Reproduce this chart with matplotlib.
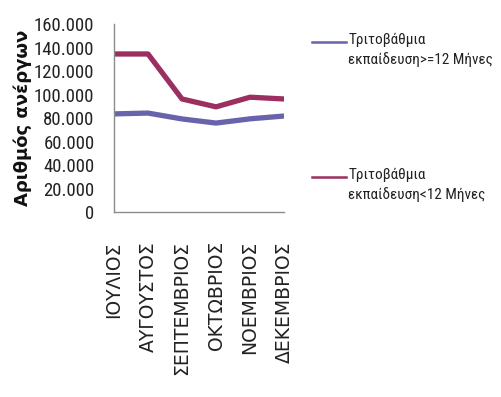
import matplotlib.pyplot as plt
from matplotlib import font_manager
from matplotlib.lines import Line2D
from matplotlib.ticker import FuncFormatter

months = ["ΙΟΥΛΙΟΣ", "ΑΥΓΟΥΣΤΟΣ", "ΣΕΠΤΕΜΒΡΙΟΣ", "ΟΚΤΩΒΡΙΟΣ", "ΝΟΕΜΒΡΙΟΣ", "ΔΕΚΕΜΒΡΙΟΣ"]
long_term = [83500, 84200, 79200, 75700, 79300, 81700]
short_term = [134500, 134500, 96200, 89500, 97700, 96200]
labels = ["Τριτοβάθμια\nεκπαίδευση>=12 Μήνες", "Τριτοβάθμια\nεκπαίδευση<12 Μήνες"]
colors = ["#6764AC", "#9B2F5F"]

# pick a narrow font if there is one, Roboto otherwise
installed = {f.name for f in font_manager.fontManager.ttflist}
narrow = "Roboto"
for name in ["Liberation Sans Narrow", "Roboto Condensed", "DejaVu Sans Condensed"]:
    if name in installed:
        narrow = name
        break
condensed = narrow != "Roboto"

fig = plt.figure(figsize=(5.01, 3.97), dpi=100)
ax = fig.add_axes([0.2275, 0.466, 0.3395, 0.4735])

x = list(range(len(months)))
ax.plot(x, long_term, color=colors[0], lw=3.8, solid_capstyle="butt")
ax.plot(x, short_term, color=colors[1], lw=3.8, solid_capstyle="butt")

ax.set_xlim(0, len(months) - 1)
ax.set_ylim(0, 160000)
ax.set_yticks(range(0, 160001, 20000))
ax.yaxis.set_major_formatter(FuncFormatter(lambda v, p: f"{int(v):,}".replace(",", ".")))
ax.set_xticks(x)
ax.set_xticklabels(months, rotation=90, fontsize=13.5, color="#222222")
for t in ax.get_yticklabels():
    t.set_family([narrow, "DejaVu Sans"])
    t.set_fontsize(13.5 if condensed else 12)
    t.set_color("#222222")
ax.tick_params(axis="y", length=0, pad=14)
ax.tick_params(axis="x", length=0, pad=21)

for s in ["top", "right"]:
    ax.spines[s].set_visible(False)
for s in ["left", "bottom"]:
    ax.spines[s].set_color("#8C8C8C")
    ax.spines[s].set_linewidth(1)

ax.set_ylabel("Αριθμός ανέργων", fontsize=13, fontweight="bold", color="#111111")
ax.yaxis.set_label_coords(-0.48, 0.5)

# legend drawn by hand so the line sits on the first text line
leg_y = [0.895, 0.555]
for c, lab, y in zip(colors, labels, leg_y):
    fig.add_artist(Line2D([0.623, 0.691], [y, y], color=c, lw=1.8, transform=fig.transFigure))
    fig.text(0.695, y + 0.022, lab, family=[narrow, "DejaVu Sans"],
             fontsize=11 if condensed else 10, color="#222222",
             va="top", ha="left", linespacing=1.45, transform=fig.transFigure)

fig.savefig("out.png", dpi=100)
